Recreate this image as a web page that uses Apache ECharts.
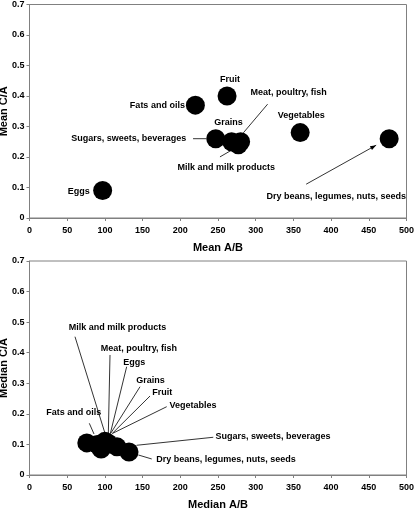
<!DOCTYPE html>
<html>
<head>
<meta charset="utf-8">
<script src="https://cdn.jsdelivr.net/npm/echarts@6/dist/echarts.min.js"></script>
<style>
html,body{margin:0;padding:0;background:#fff;}
#c{width:415px;height:510px;}
</style>
</head>
<body>
<div id="c"></div>
<script>
// ---- Data ----
var meanNames = ["Eggs", "Fats and oils", "Fruit", "Sugars, sweets, beverages", "Grains", "Milk and milk products", "Meat, poultry, fish", "Vegetables", "Dry beans, legumes, nuts, seeds"];
var meanAB    = [97, 220, 262, 247, 268, 277, 280, 359, 477];
var meanCA    = [0.09, 0.37, 0.40, 0.26, 0.25, 0.24, 0.25, 0.28, 0.26];

var medianNames = ["Fats and oils", "Eggs", "Fruit", "Milk and milk products", "Meat, poultry, fish", "Grains", "Vegetables", "Sugars, sweets, beverages", "Dry beans, legumes, nuts, seeds"];
var medianAB    = [76, 90, 95, 98, 100, 102, 104, 116, 132];
var medianCA    = [0.105, 0.10, 0.085, 0.105, 0.11, 0.10, 0.105, 0.092, 0.075];

var xTicks = [0, 50, 100, 150, 200, 250, 300, 350, 400, 450, 500];
var yTicks = [0, 0.1, 0.2, 0.3, 0.4, 0.5, 0.6, 0.7];

// ---- Label placement (pixel offsets of label centre from the point; styling only) ----
var meanLabelLayout = {
  "Eggs": {dx: -24, dy: 1},
  "Fats and oils": {dx: -38, dy: 0},
  "Fruit": {dx: 3, dy: -16},
  "Grains": {dx: -3, dy: -19},
  "Milk and milk products": {dx: -12, dy: 23},
  "Meat, poultry, fish": {dx: 48, dy: -49},
  "Sugars, sweets, beverages": {dx: -87, dy: 0},
  "Vegetables": {dx: 1, dy: -17},
  "Dry beans, legumes, nuts, seeds": {dx: -53, dy: 58}
};
var medianLabelLayout = {
  "Fats and oils": {dx: -13, dy: -30},
  "Milk and milk products": {dx: 14, dy: -115},
  "Meat, poultry, fish": {dx: 34, dy: -93},
  "Eggs": {dx: 37, dy: -82},
  "Grains": {dx: 44, dy: -64},
  "Fruit": {dx: 61, dy: -56},
  "Vegetables": {dx: 85, dy: -37},
  "Sugars, sweets, beverages": {dx: 156, dy: -10},
  "Dry beans, legumes, nuts, seeds": {dx: 97, dy: 7}
};
// leader lines: [startDx, startDy, endDx, endDy] pixel offsets from the point, optional arrow
var meanLeaders = {
  "Meat, poultry, fish": [27, -37.6, 2.7, -8.9],
  "Milk and milk products": [-18.4, 12.1, -5.1, 4.4],
  "Sugars, sweets, beverages": [-22.7, 0, -9.7, 0],
  "Dry beans, legumes, nuts, seeds": [-83, 45.5, -13, 6.5, 'arrow']
};
var medianLeaders = {
  "Fats and oils": [2.5, -19.6, 7.2, -8.9],
  "Milk and milk products": [-28.4, -106.2, 1.6, -9.6],
  "Meat, poultry, fish": [5.1, -86.4, 3.4, -6.4],
  "Eggs": [29.3, -77.7, 12.6, -9.4],
  "Grains": [33.6, -57.7, 4.3, -11.1],
  "Fruit": [48.9, -53, 10.6, -15],
  "Vegetables": [58.8, -36.2, 4.8, -9.6],
  "Sugars, sweets, beverages": [96.3, -9.6, 19.7, -1.6],
  "Dry beans, legumes, nuts, seeds": [22.7, 6.9, 9.3, 2.9]
};

var FONT = "'Liberation Sans', Arial, sans-serif";
var GREY = "#808080";

function buildData(names, xs, ys) {
  return names.map(function (n, i) {
    return {name: n, value: [xs[i], ys[i]]};
  });
}

function xAxis(gridIndex, name) {
  return {
    type: 'value', gridIndex: gridIndex, min: 0, max: 500, interval: 50,
    name: name, nameLocation: 'middle', nameGap: 24, nameMoveOverlap: false,
    nameTextStyle: {fontFamily: FONT, fontWeight: 'bold', fontSize: 11, color: '#000'},
    axisLine: {show: true, lineStyle: {color: GREY, width: 1}},
    axisTick: {show: true, inside: false, length: 3, lineStyle: {color: GREY}},
    splitLine: {show: false},
    axisLabel: {fontFamily: FONT, fontWeight: 'bold', fontSize: 9, color: '#000', margin: 8,
      formatter: function (v) { return xTicks.indexOf(v) >= 0 ? String(v) : ''; }}
  };
}
function yAxis(gridIndex, name) {
  return {
    type: 'value', gridIndex: gridIndex, min: 0, max: 0.7, interval: 0.1,
    name: name, nameLocation: 'middle', nameGap: 20, nameRotate: 90, nameMoveOverlap: false,
    nameTextStyle: {fontFamily: FONT, fontWeight: 'bold', fontSize: 11, color: '#000'},
    axisLine: {show: true, lineStyle: {color: GREY, width: 1}},
    axisTick: {show: true, inside: false, length: 3, lineStyle: {color: GREY}},
    splitLine: {show: false},
    axisLabel: {fontFamily: FONT, fontWeight: 'bold', fontSize: 9, color: '#000', margin: 5,
      formatter: function (v) {
        for (var i = 0; i < yTicks.length; i++) if (Math.abs(yTicks[i] - v) < 1e-9) return String(yTicks[i]);
        return '';
      }}
  };
}
function scatter(idx, data, layout) {
  return {
    type: 'scatter', xAxisIndex: idx, yAxisIndex: idx,
    symbol: 'circle', symbolSize: 19,
    itemStyle: {color: '#000', opacity: 1},
    silent: true,
    label: {show: true, position: 'inside', formatter: '{b}', color: '#000',
      fontFamily: FONT, fontWeight: 'bold', fontSize: 9, align: 'center', verticalAlign: 'middle'},
    labelLine: {show: false},
    labelLayout: function (p) {
      var l = layout[data[p.dataIndex].name];
      return {dx: l.dx, dy: l.dy, hideOverlap: false};
    },
    data: data
  };
}

var meanData = buildData(meanNames, meanAB, meanCA);
var medianData = buildData(medianNames, medianAB, medianCA);

var chart = echarts.init(document.getElementById('c'), null, {renderer: 'canvas'});
chart.setOption({
  animation: false,
  backgroundColor: '#fff',
  grid: [
    {left: 29.5, top: 4.5, width: 377, height: 213.5, show: true, borderColor: GREY, borderWidth: 1, backgroundColor: 'transparent', containLabel: false, outerBoundsMode: 'none'},
    {left: 29.5, top: 261, width: 377, height: 214, show: true, borderColor: GREY, borderWidth: 1, backgroundColor: 'transparent', containLabel: false, outerBoundsMode: 'none'}
  ],
  xAxis: [xAxis(0, 'Mean A/B'), xAxis(1, 'Median A/B')],
  yAxis: [yAxis(0, 'Mean C/A'), yAxis(1, 'Median C/A')],
  series: [
    scatter(0, meanData, meanLabelLayout),
    scatter(1, medianData, medianLabelLayout)
  ]
});

// leader lines anchored on the points through the chart's own coordinate conversion
function leaderGraphics(seriesIndex, data, leaders) {
  var out = [];
  data.forEach(function (d) {
    var L = leaders[d.name];
    if (!L) return;
    var p = chart.convertToPixel({seriesIndex: seriesIndex}, d.value);
    var x1 = p[0] + L[0], y1 = p[1] + L[1], x2 = p[0] + L[2], y2 = p[1] + L[3];
    out.push({type: 'line', silent: true, z: 100,
      shape: {x1: x1, y1: y1, x2: x2, y2: y2},
      style: {stroke: '#000', lineWidth: 0.8}});
    if (L[4] === 'arrow') {
      var a = Math.atan2(y2 - y1, x2 - x1), len = 6, w = 2.2;
      var bx = x2 - len * Math.cos(a), by = y2 - len * Math.sin(a);
      var nx = -Math.sin(a) * w, ny = Math.cos(a) * w;
      out.push({type: 'polygon', silent: true, z: 100,
        shape: {points: [[x2, y2], [bx + nx, by + ny], [bx - nx, by - ny]]},
        style: {fill: '#000'}});
    }
  });
  return out;
}
chart.setOption({
  graphic: leaderGraphics(0, meanData, meanLeaders).concat(leaderGraphics(1, medianData, medianLeaders))
});
</script>
</body>
</html>
